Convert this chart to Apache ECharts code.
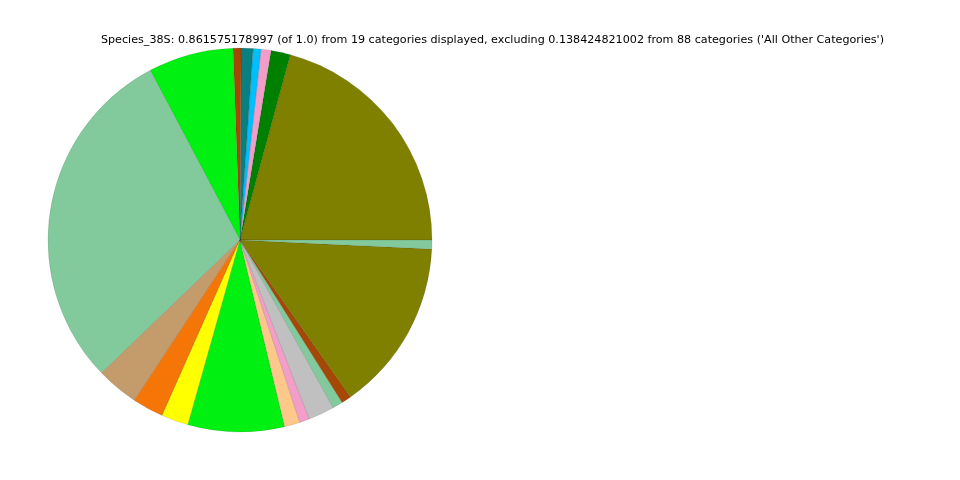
<!DOCTYPE html>
<html>
<head>
<meta charset="utf-8">
<script src="https://cdn.jsdelivr.net/npm/echarts@6/dist/echarts.min.js"></script>
<style>html,body{margin:0;padding:0;background:#fff}#c{width:960px;height:480px}</style>
</head>
<body>
<div id="c"></div>
<script>
const titleText = "Species_38S: 0.861575178997 (of 1.0) from 19 categories displayed, excluding 0.138424821002 from 88 categories ('All Other Categories')";
const categories = ["Cat 1","Cat 2","Cat 3","Cat 4","Cat 5","Cat 6","Cat 7","Cat 8","Cat 9","Cat 10","Cat 11","Cat 12","Cat 13","Cat 14","Cat 15","Cat 16","Cat 17","Cat 18","Cat 19"];
const values = [0.1790,0.0141,0.0072,0.0057,0.0086,0.0057,0.0617,0.2537,0.0306,0.0225,0.0196,0.0699,0.0112,0.0072,0.0189,0.0074,0.0072,0.1247,0.0065];
const colors = ["#808000","#008000","#F29EC8","#00BFFF","#0A7F7F","#A54705","#00F012","#82C99C","#C49C6B","#F57606","#FFFF00","#00F012","#FEC88B","#F29EC8","#C0C0C0","#82C99C","#A54705","#808000","#82C99C"];

const chart = echarts.init(document.getElementById('c'), null, {renderer:'canvas'});
chart.setOption({
  animation: false,
  backgroundColor: '#ffffff',
  title: {
    text: titleText,
    left: 487.5, top: 30, textAlign: 'center',
    textStyle: {fontFamily: 'DejaVu Sans', fontSize: 11.15, fontWeight: 'normal', color: '#000'}
  },
  series: [{
    type: 'pie',
    center: [240, 240],
    radius: [0, 192],
    startAngle: 0,
    clockwise: false,
    label: {show: false},
    labelLine: {show: false},
    emphasis: {disabled: true},
    itemStyle: {borderColor: 'rgba(0,0,0,0.2)', borderWidth: 0.5},
    data: categories.map((n, i) => ({name: n, value: values[i], itemStyle: {color: colors[i]}}))
  }]
});
</script>
</body>
</html>
